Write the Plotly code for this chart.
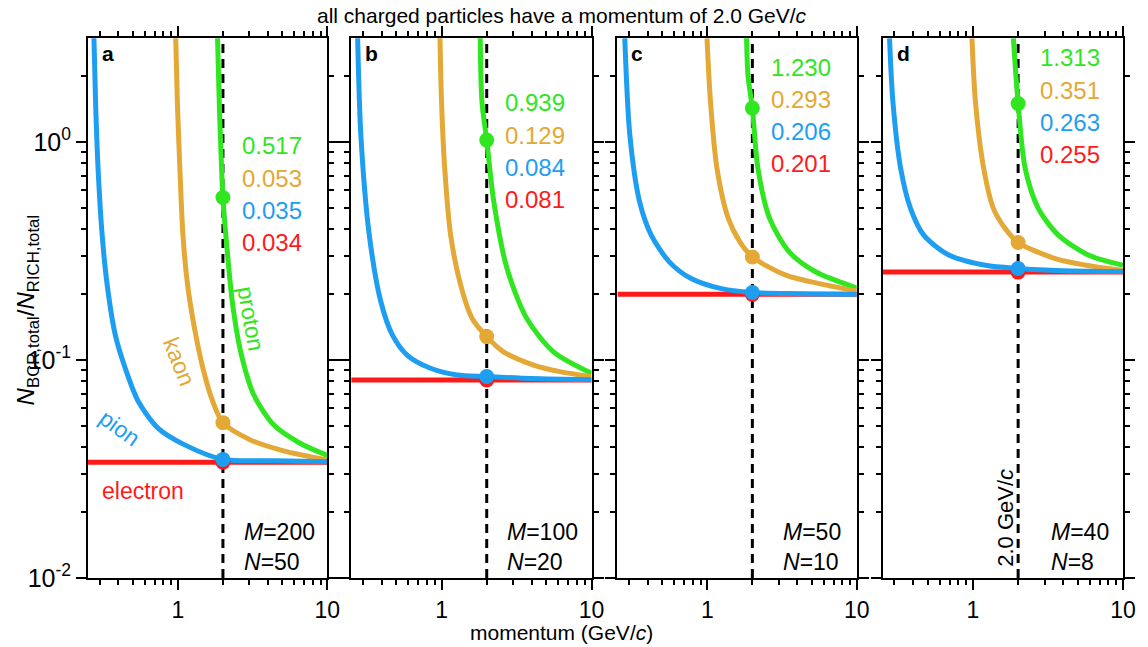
import plotly.graph_objects as go

# ---------------- data ----------------
panel_letters = ["a", "b", "c", "d"]
M_values = [200, 100, 50, 40]
N_values = [50, 20, 10, 8]
p_ref = 2.0

electron_level = [0.034, 0.081, 0.200, 0.253]

pion_x = [
    [0.274, 0.281, 0.292, 0.311, 0.336, 0.381, 0.444, 0.543, 0.738, 1.11, 2.0, 4.5, 10],
    [0.276, 0.290, 0.330, 0.394, 0.471, 0.592, 0.845, 1.27, 2.0, 4.0, 10],
    [0.280, 0.303, 0.352, 0.421, 0.556, 0.773, 1.22, 2.0, 4.0, 10],
    [0.278, 0.293, 0.330, 0.384, 0.470, 0.690, 1.21, 2.0, 4.0, 10],
]
pion_y = [
    [2.99, 1.52, 0.755, 0.374, 0.221, 0.130, 0.0916, 0.0645, 0.0486, 0.0408, 0.0350, 0.0345, 0.0341],
    [2.99, 1.07, 0.374, 0.185, 0.130, 0.105, 0.0916, 0.0854, 0.0840, 0.0822, 0.0812],
    [2.99, 1.07, 0.531, 0.374, 0.282, 0.237, 0.213, 0.204, 0.2015, 0.2005],
    [2.99, 1.52, 0.755, 0.495, 0.374, 0.303, 0.272, 0.263, 0.257, 0.2545],
]

kaon_x = [
    [0.966, 0.991, 1.03, 1.08, 1.16, 1.29, 1.47, 1.71, 2.0, 3.06, 5.09, 10],
    [0.976, 1.00, 1.05, 1.15, 1.34, 1.60, 2.0, 2.59, 4.10, 6.16, 10],
    [0.994, 1.05, 1.16, 1.38, 1.65, 2.0, 3.35, 6.16, 10],
    [0.985, 1.04, 1.18, 1.37, 1.64, 2.0, 3.53, 6.50, 10],
]
kaon_y = [
    [2.99, 1.52, 0.755, 0.374, 0.221, 0.140, 0.0916, 0.0645, 0.0516, 0.0430, 0.0383, 0.0348],
    [2.99, 1.52, 0.755, 0.374, 0.221, 0.155, 0.128, 0.109, 0.0948, 0.0884, 0.0838],
    [2.99, 1.52, 0.755, 0.446, 0.348, 0.297, 0.245, 0.221, 0.207],
    [2.99, 1.52, 0.755, 0.495, 0.401, 0.346, 0.292, 0.268, 0.258],
]

proton_x = [
    [1.84, 1.89, 1.94, 2.0, 2.14, 2.31, 2.63, 3.22, 4.37, 6.56, 10],
    [1.81, 1.86, 2.0, 2.23, 2.73, 3.70, 5.57, 10],
    [1.83, 1.87, 2.0, 2.18, 2.61, 3.53, 5.29, 10],
    [1.86, 2.0, 2.23, 2.73, 3.71, 5.87, 10],
]
proton_y = [
    [2.99, 1.52, 0.900, 0.556, 0.313, 0.185, 0.109, 0.0691, 0.0504, 0.0415, 0.0365],
    [2.99, 1.52, 1.02, 0.531, 0.263, 0.155, 0.109, 0.0869],
    [2.99, 2.02, 1.43, 0.755, 0.446, 0.313, 0.254, 0.214],
    [2.99, 1.50, 0.755, 0.495, 0.374, 0.303, 0.272],
]

# values printed in each panel (proton, kaon, pion, electron)
label_values = [
    ["0.517", "0.053", "0.035", "0.034"],
    ["0.939", "0.129", "0.084", "0.081"],
    ["1.230", "0.293", "0.206", "0.201"],
    ["1.313", "0.351", "0.263", "0.255"],
]

x_major = [1, 10]
x_major_text = ["1", "10"]
x_minor = [0.3, 0.4, 0.5, 0.6, 0.7, 0.8, 0.9, 2, 3, 4, 5, 6, 7, 8, 9]
y_major = [0.01, 0.1, 1]
y_major_text = ["10<sup>-2</sup>", "10<sup>-1</sup>", "10<sup>0</sup>"]
y_minor = [0.02, 0.03, 0.04, 0.05, 0.06, 0.07, 0.08, 0.09,
           0.2, 0.3, 0.4, 0.5, 0.6, 0.7, 0.8, 0.9, 2]

# ---------------- styling ----------------
W, H = 1148, 647
ML, MR, MT, MB = 88, 18, 38, 69
PW = W - ML - MR
PH = H - MT - MB
FONT = "Liberation Sans, Arial, Helvetica, sans-serif"
C_E = "#ff1a1a"
C_PI = "#1e9ef0"
C_K = "#e3a835"
C_P = "#2fe621"
panel_px = [(88, 329), (353, 595), (621, 862), (888, 1130)]


def px(x):
    return (x - ML) / PW


def py(y):
    return 1 - (y - MT) / PH


fig = go.Figure()
layout = dict(
    width=W, height=H,
    margin=dict(l=ML, r=MR, t=MT, b=MB),
    paper_bgcolor="white", plot_bgcolor="white",
    showlegend=False,
    font=dict(family=FONT, color="black", size=22),
)

annotations = []
for i in range(4):
    xa = "x" if i == 0 else f"x{i+1}"
    ya = "y" if i == 0 else f"y{i+1}"
    xkey = "xaxis" if i == 0 else f"xaxis{i+1}"
    ykey = "yaxis" if i == 0 else f"yaxis{i+1}"
    x0, x1 = panel_px[i]
    layout[xkey] = dict(
        type="log", range=[-0.602, 1.0], domain=[px(x0), px(x1)], anchor=ya,
        showline=True, linecolor="black", linewidth=2, mirror="ticks",
        ticks="outside", ticklen=10, tickwidth=2, tickcolor="black",
        tickmode="array", tickvals=x_major, ticktext=x_major_text,
        tickfont=dict(size=23, family=FONT),
        minor=dict(tickmode="array", tickvals=x_minor, ticks="outside",
                   ticklen=5, tickwidth=2, tickcolor="black", showgrid=False),
        showgrid=False, zeroline=False, fixedrange=True,
    )
    layout[ykey] = dict(
        type="log", range=[-2.0, 0.477], domain=[0, 1], anchor=xa,
        showline=True, linecolor="black", linewidth=2, mirror="ticks",
        ticks="outside", ticklen=10, tickwidth=2, tickcolor="black",
        tickmode="array", tickvals=y_major, ticktext=y_major_text,
        showticklabels=(i == 0),
        tickfont=dict(size=25, family=FONT),
        minor=dict(tickmode="array", tickvals=y_minor, ticks="outside",
                   ticklen=5, tickwidth=2, tickcolor="black", showgrid=False),
        showgrid=False, zeroline=False, fixedrange=True,
    )

    # dashed reference line at 2.0 GeV/c
    fig.add_trace(go.Scatter(x=[p_ref, p_ref], y=[0.01, 3.0], mode="lines",
                             line=dict(color="black", width=3, dash="9px,6px"),
                             xaxis=xa, yaxis=ya, hoverinfo="skip"))
    # curves
    fig.add_trace(go.Scatter(x=[0.25, 10], y=[electron_level[i]] * 2, mode="lines",
                             line=dict(color=C_E, width=5), xaxis=xa, yaxis=ya))
    fig.add_trace(go.Scatter(x=proton_x[i], y=proton_y[i], mode="lines",
                             line=dict(color=C_P, width=5, shape="spline", smoothing=0.8),
                             xaxis=xa, yaxis=ya))
    fig.add_trace(go.Scatter(x=kaon_x[i], y=kaon_y[i], mode="lines",
                             line=dict(color=C_K, width=5, shape="spline", smoothing=0.8),
                             xaxis=xa, yaxis=ya))
    fig.add_trace(go.Scatter(x=pion_x[i], y=pion_y[i], mode="lines",
                             line=dict(color=C_PI, width=5, shape="spline", smoothing=0.8),
                             xaxis=xa, yaxis=ya))
    # markers at 2.0 GeV/c
    dot_vals = [electron_level[i],
                proton_y[i][proton_x[i].index(p_ref)],
                kaon_y[i][kaon_x[i].index(p_ref)],
                pion_y[i][pion_x[i].index(p_ref)]]
    dot_cols = [C_E, C_P, C_K, C_PI]
    for v, c in zip(dot_vals, dot_cols):
        fig.add_trace(go.Scatter(x=[p_ref], y=[v], mode="markers",
                                 marker=dict(color=c, size=15, line=dict(width=0)),
                                 xaxis=xa, yaxis=ya))

    # panel letter
    annotations.append(dict(text=f"<b>{panel_letters[i]}</b>", x=px(x0 + 12), y=py(53),
                            xref="paper", yref="paper", xanchor="left", yanchor="middle",
                            showarrow=False, font=dict(size=21, family=FONT, color="black")))

    # M and N
    mx = [243, 508, 786, 1056][i]
    annotations.append(dict(text=f"<i>M</i>={M_values[i]}", x=px(mx), y=py(532),
                            xref="paper", yref="paper", xanchor="left", yanchor="middle",
                            showarrow=False, font=dict(size=23, family=FONT, color="black")))
    annotations.append(dict(text=f"<i>N</i>={N_values[i]}", x=px(mx), y=py(562),
                            xref="paper", yref="paper", xanchor="left", yanchor="middle",
                            showarrow=False, font=dict(size=23, family=FONT, color="black")))

# value labels
label_centers = [(273, 146), (538, 103), (806, 67), (1077, 58)]
label_cols = [C_P, C_K, C_PI, C_E]
for i in range(4):
    cx, cy = label_centers[i]
    for j in range(4):
        annotations.append(dict(text=label_values[i][j], x=px(cx), y=py(cy + j * 32.3),
                                xref="paper", yref="paper", xanchor="center", yanchor="middle",
                                showarrow=False,
                                font=dict(size=24, family=FONT, color=label_cols[j])))

# particle names in panel a
annotations += [
    dict(text="electron", x=px(143), y=py(491), textangle=0, font=dict(size=23, color=C_E, family=FONT)),
    dict(text="pion", x=px(120), y=py(428), textangle=36, font=dict(size=23, color=C_PI, family=FONT)),
    dict(text="kaon", x=px(180), y=py(362), textangle=68, font=dict(size=23, color=C_K, family=FONT)),
    dict(text="proton", x=px(252), y=py(319), textangle=80, font=dict(size=23, color=C_P, family=FONT)),
]
for a in annotations[-4:]:
    a.update(xref="paper", yref="paper", xanchor="center", yanchor="middle", showarrow=False)

# 2.0 GeV/c in panel d
annotations.append(dict(text="2.0 GeV/<i>c</i>", x=px(1011), y=py(518), textangle=-90,
                        xref="paper", yref="paper", xanchor="center", yanchor="middle",
                        showarrow=False, font=dict(size=22, family=FONT, color="black")))

# titles
annotations.append(dict(text="all charged particles have a momentum of 2.0 GeV/<i>c</i>",
                        x=px(565), y=py(15), xref="paper", yref="paper",
                        xanchor="center", yanchor="middle", showarrow=False,
                        font=dict(size=21, family=FONT, color="black")))
annotations.append(dict(text="momentum (GeV/<i>c</i>)",
                        x=px(565), y=py(632), xref="paper", yref="paper",
                        xanchor="center", yanchor="middle", showarrow=False,
                        font=dict(size=21, family=FONT, color="black")))
annotations.append(dict(text="<i>N</i><sub>BCR,total</sub>/<i>N</i><sub>RICH,total</sub>",
                        x=px(27), y=py(310), textangle=-90, xref="paper", yref="paper",
                        xanchor="center", yanchor="middle", showarrow=False,
                        font=dict(size=24, family=FONT, color="black")))

layout["annotations"] = annotations
fig.update_layout(**layout)
fig.write_html("out.html", config={"displayModeBar": False},
               post_script="document.body.style.margin='0px';document.body.style.overflow='hidden';")
